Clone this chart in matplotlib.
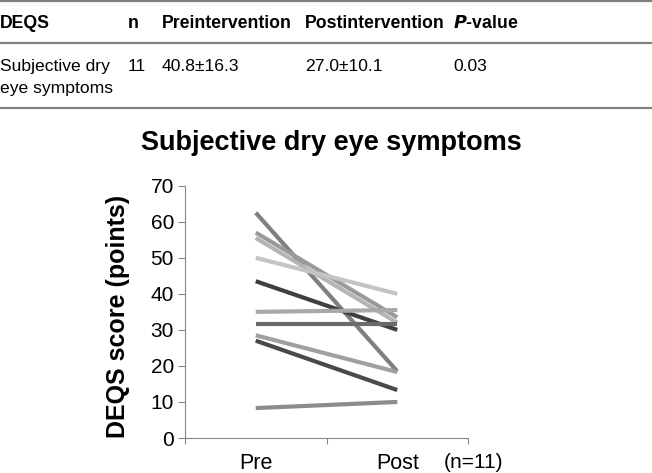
import matplotlib.pyplot as plt
from matplotlib.lines import Line2D

plt.rcParams['font.family'] = ['Liberation Sans', 'DejaVu Sans']

# table data
header = ["DEQS", "n", "Preintervention", "Postintervention", "$\\bfit{P}$-value"]
row = ["Subjective dry\neye symptoms", "11", "40.8±16.3", "27.0±10.1", "0.03"]
col_x = [0, 128, 162, 305, 453]

# individual patients (pre, post) and line greys
pre = [62.5, 57.0, 55.5, 50.0, 43.5, 35.0, 31.7, 28.5, 27.0, 8.3]
post = [18.5, 33.5, 32.0, 40.0, 30.0, 35.5, 31.7, 18.3, 13.3, 10.0]
greys = ["#7f7f7f", "#9a9a9a", "#b5b5b5", "#c4c4c4", "#3f3f3f",
         "#a8a8a8", "#6a6a6a", "#a0a0a0", "#4a4a4a", "#8c8c8c"]
x_labels = ["Pre", "Post"]

W, H = 652, 473
fig = plt.figure(figsize=(W / 100, H / 100), dpi=100)

# ==========================
# Table
# ==========================

for yy in [1.5, 43, 108]:
    fig.add_artist(Line2D([0, 1], [1 - yy / H, 1 - yy / H],
                          color="#808080", linewidth=1.6))

for x, t in zip(col_x, header):
    fig.text(x / W, 1 - 24 / H, t, fontsize=12.7, fontweight="bold",
             va="center", ha="left")

for x, t in zip(col_x, row):
    fig.text(x / W, 1 - 59 / H, t, fontsize=12.6, va="top", ha="left",
             linespacing=1.55)

# ==========================
# Chart
# ==========================

ax = fig.add_axes([185 / W, 1 - 438 / H, (468 - 185) / W, (438 - 185.7) / H])

for a, b, c in zip(pre, post, greys):
    ax.plot([0.5, 1.5], [a, b], color=c, linewidth=3, solid_capstyle="butt")

ax.set_xlim(0, 2)
ax.set_ylim(0, 70)
ax.set_yticks(range(0, 71, 10))
ax.set_xticks([0, 1, 2])
ax.set_xticklabels([])
ax.tick_params(axis="x", length=4, color="#888888")
ax.tick_params(axis="y", length=5, color="#888888", labelsize=15, pad=3)

for s in ["top", "right"]:
    ax.spines[s].set_visible(False)
for s in ["left", "bottom"]:
    ax.spines[s].set_color("#888888")

for i, t in enumerate(x_labels):
    ax.text(0.5 + i, -4.3, t, fontsize=15.5, ha="center", va="top")
ax.text(2.04, -4.3, "(n=11)", fontsize=15, ha="center", va="top")

fig.text(118 / W, 1 - 316 / H, "DEQS score (points)", fontsize=18,
         fontweight="bold", rotation=90, ha="center", va="center")
fig.text(331 / W, 1 - 143 / H, "Subjective dry eye symptoms", fontsize=19.5,
         fontweight="bold", ha="center", va="center")

fig.savefig("out.png", dpi=100)
